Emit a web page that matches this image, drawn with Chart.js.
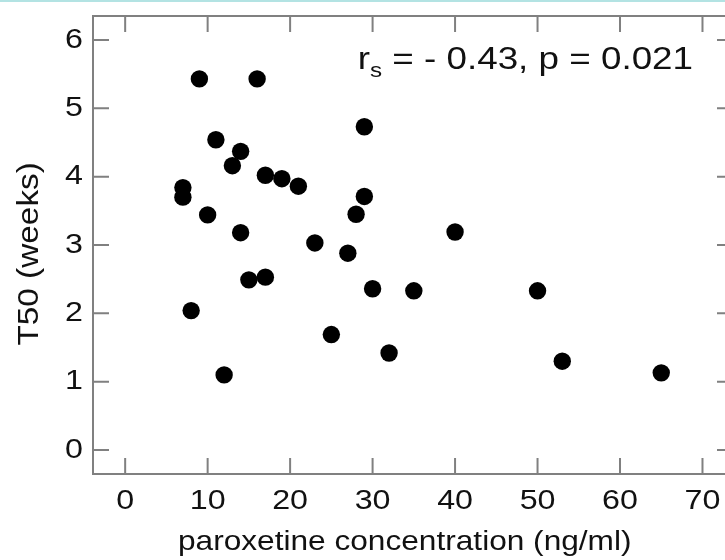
<!DOCTYPE html>
<html>
<head>
<meta charset="utf-8">
<script src="https://cdn.jsdelivr.net/npm/chart.js@4/dist/chart.umd.min.js"></script>
<style>
  html, body { margin: 0; padding: 0; overflow: hidden; background: #fff; }
  #topline { position: absolute; left: 0; top: 0; width: 100%; height: 2px; background: #b3e3e3; }
  #graphique { display: block; }
</style>
</head>
<body>
<div id="topline"></div>
<canvas id="graphique" width="745" height="560"></canvas>
<script>
// T50 against paroxetine plasma concentration, one dot per patient
var concentration = [7, 7, 9, 16, 11, 14, 13, 17, 19, 21, 10, 14, 15, 17, 8, 12, 23, 27, 28, 29, 29, 30, 25, 32, 35, 40, 50, 53, 65];
var t50 = [3.84, 3.70, 5.43, 5.43, 4.54, 4.37, 4.16, 4.02, 3.97, 3.86, 3.44, 3.18, 2.49, 2.53, 2.04, 1.10, 3.03, 2.88, 3.45, 3.71, 4.73, 2.36, 1.69, 1.42, 2.33, 3.19, 2.33, 1.30, 1.13];

var xTicks = [0, 10, 20, 30, 40, 50, 60, 70];
var yTicks = [0, 1, 2, 3, 4, 5, 6];
var xLabel = 'paroxetine concentration (ng/ml)';
var yLabel = 'T50 (weeks)';

var FONT = '"Liberation Sans", Arial, Helvetica, sans-serif';
var INK = '#111';
var TICK = 16;
var STRETCH = 1.15; // wide lettering

var ctx = document.getElementById('graphique').getContext('2d');

// draw and measure all text a bit wider than the font's own shapes
var fillText0 = ctx.fillText;
var measureText0 = ctx.measureText;
ctx.fillText = function (text, x, y, maxWidth) {
  this.save();
  this.translate(x, y);
  this.scale(STRETCH, 1);
  if (maxWidth === undefined) fillText0.call(this, text, 0, 0);
  else fillText0.call(this, text, 0, 0, maxWidth / STRETCH);
  this.restore();
};
ctx.measureText = function (text) {
  var m = measureText0.call(this, text);
  return {
    width: m.width * STRETCH,
    actualBoundingBoxAscent: m.actualBoundingBoxAscent,
    actualBoundingBoxDescent: m.actualBoundingBoxDescent
  };
};

// box round the plot, ticks pointing inwards on all four sides
var cadre = {
  id: 'cadre',
  beforeDatasetsDraw: function (chart) {
    var c = chart.ctx, a = chart.chartArea;
    var sx = chart.scales.x, sy = chart.scales.y;
    c.save();
    c.strokeStyle = '#808080';
    c.lineWidth = 2;
    c.strokeRect(a.left, a.top, a.right - a.left, a.bottom - a.top);
    c.beginPath();
    xTicks.forEach(function (v) {
      var px = sx.getPixelForValue(v);
      c.moveTo(px, a.bottom); c.lineTo(px, a.bottom - TICK);
      c.moveTo(px, a.top); c.lineTo(px, a.top + TICK);
    });
    yTicks.forEach(function (v) {
      var py = sy.getPixelForValue(v);
      c.moveTo(a.left, py); c.lineTo(a.left + TICK, py);
      c.moveTo(a.right, py); c.lineTo(a.right - TICK, py);
    });
    c.stroke();
    c.restore();
  },
  afterDraw: function (chart) {
    var c = chart.ctx, sx = chart.scales.x, sy = chart.scales.y;
    c.save();
    c.fillStyle = INK;
    c.textBaseline = 'alphabetic';
    c.textAlign = 'center';

    // x axis title, centred under the tick labels
    c.font = '27.5px ' + FONT;
    c.fillText(xLabel, sx.getPixelForValue(33.9), sx.bottom - 10);

    // y axis title, turned a quarter left
    c.save();
    c.translate(38, sy.getPixelForValue(2.87));
    c.rotate(-Math.PI / 2);
    c.font = '29px ' + FONT;
    c.fillText(yLabel, 0, 0);
    c.restore();

    // Spearman result in the top right corner
    var x = sx.getPixelForValue(28.2);
    var y = sy.getPixelForValue(5.57);
    c.textAlign = 'left';
    c.font = '32px ' + FONT;
    c.fillText('r', x, y);
    x += c.measureText('r').width;
    c.font = '21px ' + FONT;
    c.fillText('s', x, y + 8);
    x += c.measureText('s').width;
    c.font = '32px ' + FONT;
    c.fillText(' = - 0.43, p = 0.021', x, y);
    c.restore();
  }
};

var points = concentration.map(function (v, i) { return { x: v, y: t50[i] }; });

new Chart(ctx, {
  type: 'scatter',
  data: {
    datasets: [{
      data: points,
      backgroundColor: '#000',
      borderWidth: 0,
      pointRadius: 8.7,
      pointHoverRadius: 8.7
    }]
  },
  options: {
    responsive: false,
    animation: false,
    layout: { padding: { top: 16, right: 12, left: 0, bottom: 0 } },
    plugins: {
      legend: { display: false },
      tooltip: { enabled: false }
    },
    scales: {
      x: {
        type: 'linear',
        min: -3.9,
        max: 73.7,
        grid: { display: false, drawTicks: false },
        border: { display: false },
        afterBuildTicks: function (s) { s.ticks = xTicks.map(function (v) { return { value: v }; }); },
        afterFit: function (s) { s.height = 86; s.paddingLeft = 0; s.paddingRight = 0; },
        ticks: { padding: 10.5, color: INK, maxRotation: 0, autoSkip: false, font: { family: FONT, size: 28 } },
        title: { display: false }
      },
      y: {
        type: 'linear',
        min: -0.35,
        max: 6.35,
        grid: { display: false, drawTicks: false },
        border: { display: false },
        afterBuildTicks: function (s) { s.ticks = yTicks.map(function (v) { return { value: v }; }); },
        afterFit: function (s) { s.width = 93; s.paddingTop = 0; s.paddingBottom = 0; },
        ticks: { padding: 10, color: INK, autoSkip: false, font: { family: FONT, size: 28 } },
        title: { display: false }
      }
    }
  },
  plugins: [cadre]
});
</script>
</body>
</html>
